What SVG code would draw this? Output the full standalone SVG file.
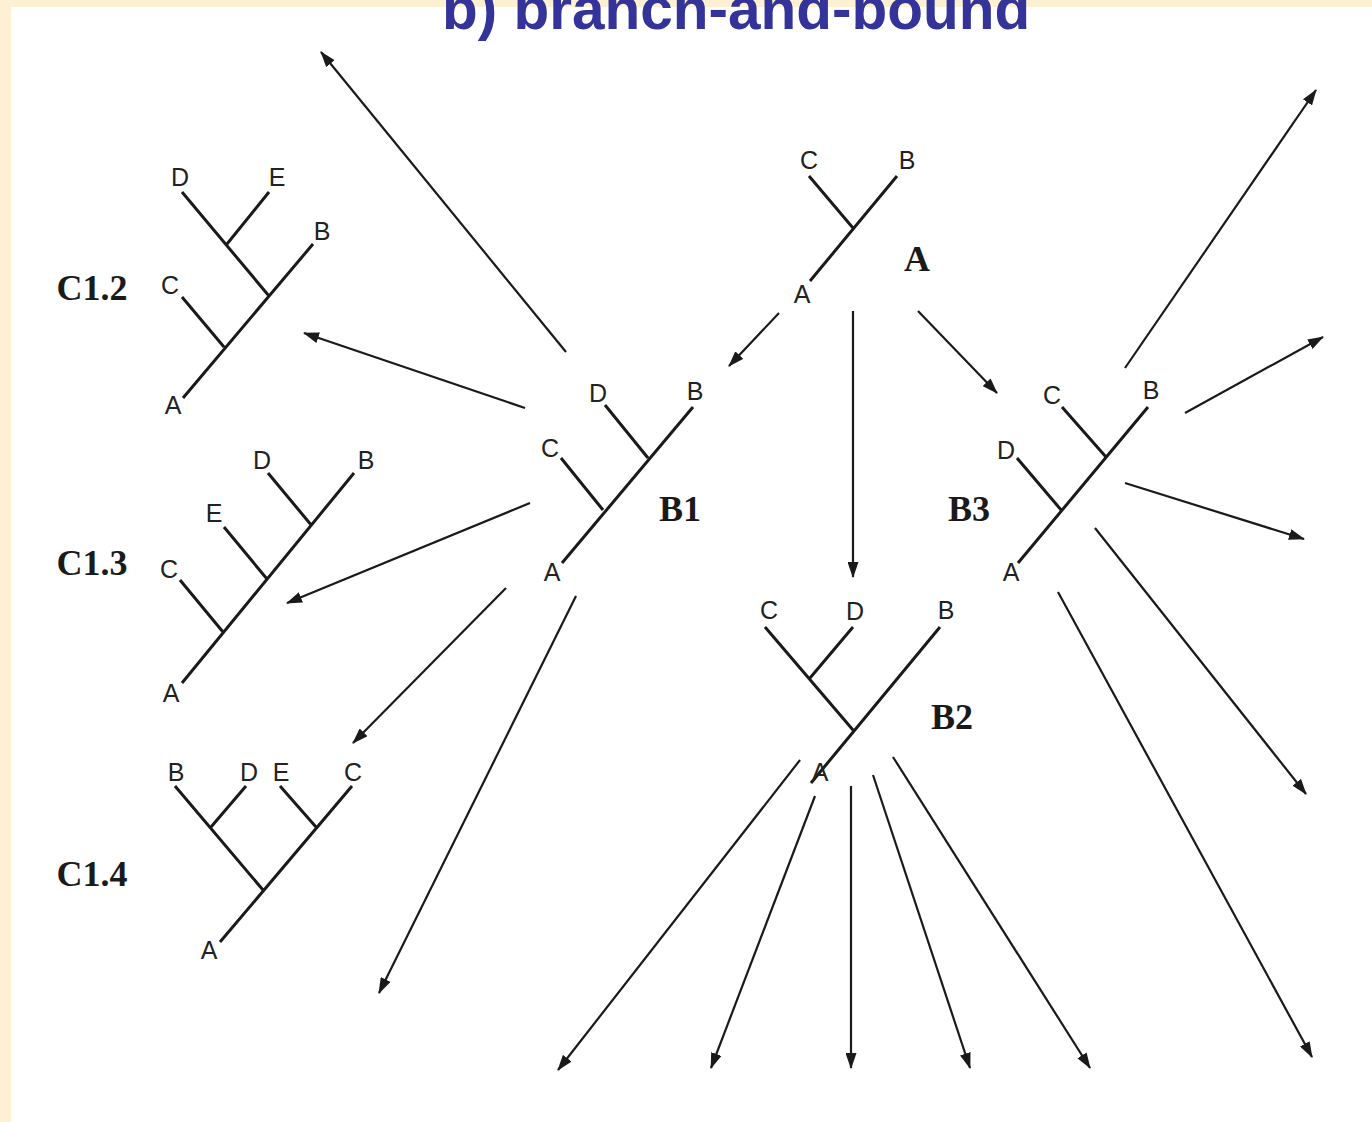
<svg xmlns="http://www.w3.org/2000/svg" width="1372" height="1122" viewBox="0 0 1372 1122">
  <defs>
    <marker id="ah" viewBox="0 0 16 11" refX="15" refY="5.5" markerWidth="16" markerHeight="11" orient="auto" markerUnits="userSpaceOnUse">
      <path d="M0,0 L16,5.5 L0,11 z" fill="#1a1a1a"/>
    </marker>
    <style>
      .br { stroke: #1a1a1a; stroke-width: 3; fill: none; stroke-linecap: butt; }
      .tip { font-family: "Liberation Sans", Arial, sans-serif; font-size: 25px; fill: #222; text-anchor: middle; }
      .tag { font-family: "Liberation Serif", "Times New Roman", serif; font-weight: bold; font-size: 36px; fill: #1a1a1a; text-anchor: middle; }
      .arr { stroke: #1a1a1a; stroke-width: 2.2; fill: none; marker-end: url(#ah); }
    </style>
  </defs>

  <!-- slide background -->
  <rect x="0" y="0" width="1372" height="1122" fill="#fdf0d3"/>
  <rect x="11" y="7" width="1361" height="1115" fill="#ffffff"/>

  <text x="442" y="29" font-family="Liberation Sans, Arial, sans-serif" font-weight="bold" font-size="58.5" fill="#333399">b) branch-and-bound</text>

  <!-- starting tree A -->
  <g id="tree-A">
    <path class="br" d="M810,281 L897,176 M809,176 L853,228"/>
    <text class="tip" x="809" y="169">C</text>
    <text class="tip" x="907" y="169">B</text>
    <text class="tip" x="802" y="303">A</text>
    <text class="tag" x="917" y="271">A</text>
  </g>

  <!-- second-level trees -->
  <g id="tree-B1">
    <path class="br" d="M562,563 L693,407 M605,405 L648,458 M561,458 L603,510"/>
    <text class="tip" x="598" y="402">D</text>
    <text class="tip" x="695" y="400">B</text>
    <text class="tip" x="550" y="457">C</text>
    <text class="tip" x="552" y="581">A</text>
    <text class="tag" x="680" y="521">B1</text>
  </g>

  <g id="tree-B2">
    <path class="br" d="M811,783 L940,627 M765,627 L853,730 M853,627 L810,678"/>
    <text class="tip" x="769" y="619">C</text>
    <text class="tip" x="855" y="620">D</text>
    <text class="tip" x="946" y="619">B</text>
    <text class="tip" x="820" y="781" font-size="16">A</text>
    <text class="tag" x="952" y="729">B2</text>
  </g>

  <g id="tree-B3">
    <path class="br" d="M1018,563 L1148,407 M1062,407 L1106,457 M1017,458 L1062,511"/>
    <text class="tip" x="1052" y="404">C</text>
    <text class="tip" x="1151" y="399">B</text>
    <text class="tip" x="1006" y="459">D</text>
    <text class="tip" x="1011" y="581">A</text>
    <text class="tag" x="969" y="521">B3</text>
  </g>

  <!-- third-level trees -->
  <g id="tree-C1.2">
    <path class="br" d="M183,398 L313,244 M182,192 L269,296 M269,192 L227,244 M182,297 L224,347"/>
    <text class="tip" x="180" y="186">D</text>
    <text class="tip" x="277" y="186">E</text>
    <text class="tip" x="322" y="240">B</text>
    <text class="tip" x="170" y="294">C</text>
    <text class="tip" x="173" y="414">A</text>
    <text class="tag" x="92" y="300">C1.2</text>
  </g>

  <g id="tree-C1.3">
    <path class="br" d="M182,683 L354,473 M268,473 L312,526 M224,527 L267,579 M180,580 L223,632"/>
    <text class="tip" x="262" y="469">D</text>
    <text class="tip" x="366" y="469">B</text>
    <text class="tip" x="214" y="522">E</text>
    <text class="tip" x="169" y="578">C</text>
    <text class="tip" x="171" y="702">A</text>
    <text class="tag" x="92" y="575">C1.3</text>
  </g>

  <g id="tree-C1.4">
    <path class="br" d="M220,942 L352,786 M175,786 L263,890 M246,786 L211,827 M280,786 L316,827"/>
    <text class="tip" x="176" y="781">B</text>
    <text class="tip" x="249" y="781">D</text>
    <text class="tip" x="281" y="781">E</text>
    <text class="tip" x="353" y="781">C</text>
    <text class="tip" x="209" y="959">A</text>
    <text class="tag" x="92" y="886">C1.4</text>
  </g>

  <!-- search connectors -->
  <g id="connectors">
    <line class="arr" x1="779" y1="313" x2="729" y2="366"/>
    <line class="arr" x1="853" y1="311" x2="853" y2="577"/>
    <line class="arr" x1="918" y1="311" x2="997" y2="393"/>

    <line class="arr" x1="566" y1="352" x2="321" y2="52"/>
    <line class="arr" x1="525" y1="408" x2="304" y2="333"/>
    <line class="arr" x1="530" y1="503" x2="287" y2="603"/>
    <line class="arr" x1="506" y1="588" x2="353" y2="743"/>
    <line class="arr" x1="576" y1="596" x2="379" y2="993"/>

    <line class="arr" x1="800" y1="760" x2="558" y2="1070"/>
    <line class="arr" x1="815" y1="796" x2="711" y2="1068"/>
    <line class="arr" x1="851" y1="786" x2="851" y2="1068"/>
    <line class="arr" x1="873" y1="775" x2="970" y2="1068"/>
    <line class="arr" x1="893" y1="757" x2="1090" y2="1068"/>

    <line class="arr" x1="1125" y1="368" x2="1316" y2="90"/>
    <line class="arr" x1="1185" y1="413" x2="1323" y2="337"/>
    <line class="arr" x1="1125" y1="483" x2="1304" y2="539"/>
    <line class="arr" x1="1095" y1="528" x2="1306" y2="794"/>
    <line class="arr" x1="1058" y1="592" x2="1312" y2="1057"/>
  </g>
</svg>
